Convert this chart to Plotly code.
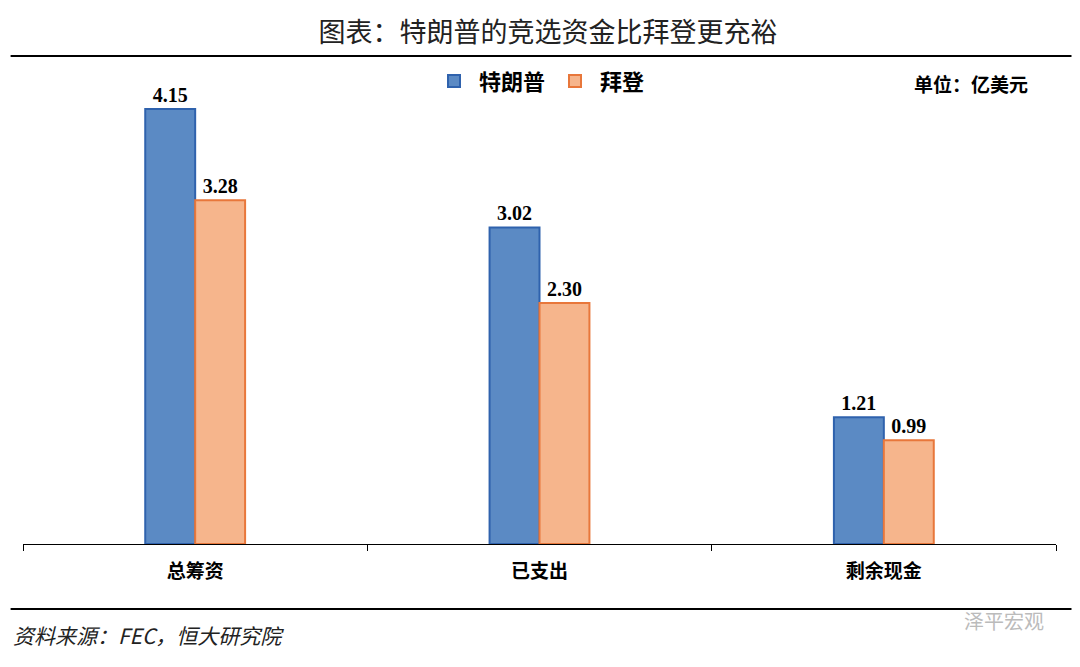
import plotly.graph_objects as go

categories = ['总筹资', '已支出', '剩余现金']
trump = [4.15, 3.02, 1.21]
biden = [3.28, 2.30, 0.99]

font = 'Noto Sans CJK SC'
fig = go.Figure()
fig.add_trace(go.Bar(x=categories, y=trump, name='<b>特朗普</b>', marker_color='#5b8ac4',
                     marker_line=dict(color='#2f62ad', width=2),
                     text=[f'<b>{v:.2f}</b>' for v in trump], textposition='outside',
                     textfont=dict(size=20, color='black', family='Liberation Serif'), cliponaxis=False))
fig.add_trace(go.Bar(x=categories, y=biden, name='<b>拜登</b>', marker_color='#f6b58c',
                     marker_line=dict(color='#e8773b', width=2),
                     text=[f'<b>{v:.2f}</b>' for v in biden], textposition='outside',
                     textfont=dict(size=20, color='black', family='Liberation Serif'), cliponaxis=False))

fig.update_layout(
    width=1080, height=667, margin=dict(l=15, r=32, t=58, b=131),
    paper_bgcolor='white', plot_bgcolor='white',
    barmode='group', bargap=0.71, bargroupgap=0,
    font=dict(family=font, color='black'),
    showlegend=True,
    legend=dict(orientation='h', x=0.5, xanchor='center', y=1.012, yanchor='top',
                bgcolor='rgba(0,0,0,0)',
                font=dict(size=22, family=font), itemwidth=40),
    xaxis=dict(showline=True, linecolor='black', linewidth=1, ticks='outside',
               tickson='boundaries', ticklen=6, tickcolor='black',
               tickprefix='<b>', ticksuffix='</b>', ticklabelstandoff=10,
               tickfont=dict(size=19, family=font)),
    yaxis=dict(range=[0, 4.56], visible=False),
    title=dict(text='图表：特朗普的竞选资金比拜登更充裕', x=0.5, xanchor='center', y=0.978,
               font=dict(size=27, family=font, color='#222')),
)
fig.add_shape(type='line', xref='paper', yref='paper', x0=-0.012, x1=1.015, y0=1.021, y1=1.021,
              line=dict(color='black', width=2))
fig.add_shape(type='line', xref='paper', yref='paper', x0=-0.012, x1=1.015, y0=-0.136, y1=-0.136,
              line=dict(color='black', width=2))
fig.add_annotation(text='<b>单位：亿美元</b>', xref='paper', yref='paper', x=0.975, y=0.995,
                   xanchor='right', yanchor='top', showarrow=False, font=dict(size=19))
fig.add_annotation(text='<i>资料来源：FEC，恒大研究院</i>', xref='paper', yref='paper', x=-0.012, y=-0.19,
                   xanchor='left', yanchor='middle', showarrow=False, font=dict(size=21, color='#222'))
fig.add_annotation(text='泽平宏观', xref='paper', yref='paper', x=0.99, y=-0.16,
                   xanchor='right', yanchor='middle', showarrow=False, font=dict(size=20, color='#bbbbbb'))
fig.write_html('out.html')
